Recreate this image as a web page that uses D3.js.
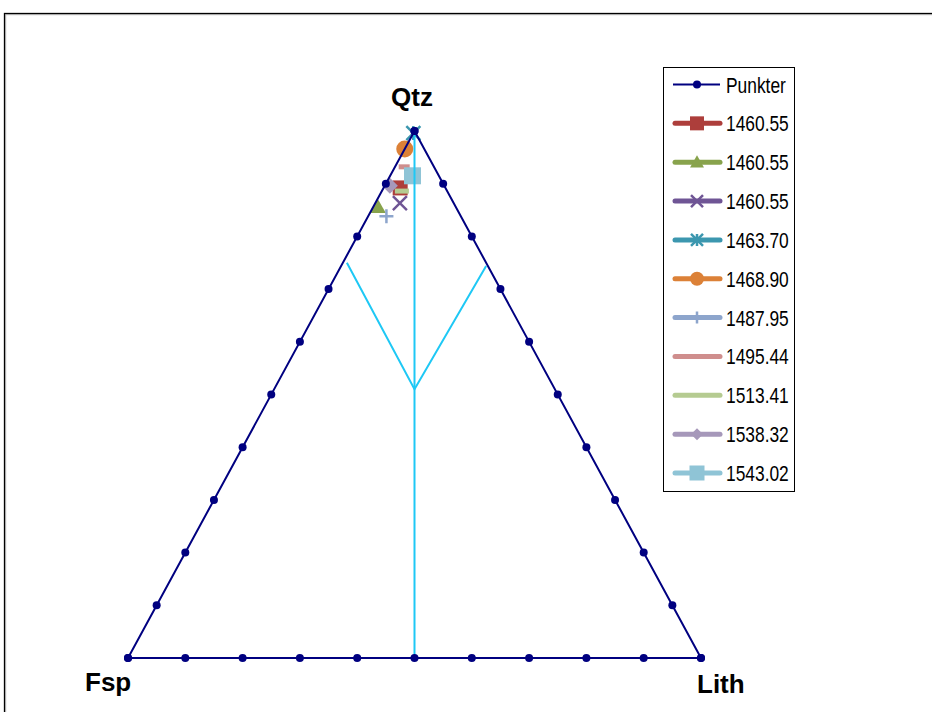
<!DOCTYPE html>
<html>
<head>
<meta charset="utf-8">
<script src="https://cdn.jsdelivr.net/npm/d3@7"></script>
<style>
  body { margin: 0; background: #fff; }
  svg { display: block; }
</style>
</head>
<body>
<div id="chart"></div>
<script>
// Ternary data: Q = quartz, F = feldspar, L = lithics (fractions)
const samples = ['1460.55', '1460.55', '1460.55', '1463.70', '1468.90', '1487.95', '1495.44', '1513.41', '1538.32', '1543.02'];
const qtz  = [0.892, 0.856, 0.863, 0.996, 0.966, 0.838, 0.932, 0.886, 0.896, 0.915];
const fsp  = [0.079, 0.136, 0.094, 0.004, 0.034, 0.130, 0.052, 0.079, 0.095, 0.046];
const lith = [0.029, 0.008, 0.043, 0.000, 0.000, 0.032, 0.016, 0.035, 0.009, 0.039];
const markers = ['square', 'triangle', 'x', 'star', 'circle', 'plus', 'dash', 'dash', 'diamond', 'square'];
const colors = ['#AD3E3B', '#88A34C', '#6F5595', '#3C97AF', '#DC8137', '#8DA5CC', '#CF8E8D', '#B5CB91', '#A698BA', '#8FC4D6'];

const ticks = d3.range(0, 11).map((d) => d / 10);
const cornerLabels = ['Qtz', 'Fsp', 'Lith'];

// classification lines (Q, F, L)
const fieldLines = [
  [[1, 0, 0], [0, 0.5, 0.5]],
  [[0.75, 0.243, 0.007], [0.51, 0.245, 0.245], [0.744, 0.003, 0.253]]
];

const width = 932;
const height = 712;

const svg = d3.select('#chart').append('svg')
  .attr('width', width)
  .attr('height', height);

// outer frame
svg.append('rect')
  .attr('x', 5.5).attr('y', 14.5)
  .attr('width', 1000).attr('height', 800)
  .attr('fill', 'none').attr('stroke', '#c8c8c8').attr('stroke-width', 1.5);
svg.append('rect')
  .attr('x', 4.5).attr('y', 13.5)
  .attr('width', 1000).attr('height', 800)
  .attr('fill', 'none').attr('stroke', '#000').attr('stroke-width', 1.3);

// ternary scales
const xScale = d3.scaleLinear().domain([0, 1]).range([128, 701]);
const yScale = d3.scaleLinear().domain([0, 1]).range([658, 131]);
const px = (q, f, l) => xScale(l + q / 2);
const py = (q) => yScale(q);

function markerPath(g, type, cx, cy, color, s) {
  const h = s / 2;
  if (type === 'square') {
    g.append('rect').attr('x', cx - h).attr('y', cy - h).attr('width', s).attr('height', s).attr('fill', color);
  } else if (type === 'circle') {
    g.append('circle').attr('cx', cx).attr('cy', cy).attr('r', h).attr('fill', color);
  } else if (type === 'triangle') {
    g.append('path').attr('d', `M${cx},${cy - h}L${cx + h},${cy + h * 0.75}L${cx - h},${cy + h * 0.75}Z`).attr('fill', color);
  } else if (type === 'diamond') {
    g.append('path').attr('d', `M${cx},${cy - h}L${cx + h},${cy}L${cx},${cy + h}L${cx - h},${cy}Z`).attr('fill', color);
  } else if (type === 'x') {
    g.append('path').attr('d', `M${cx - h},${cy - h}L${cx + h},${cy + h}M${cx + h},${cy - h}L${cx - h},${cy + h}`)
      .attr('stroke', color).attr('stroke-width', 2.5).attr('fill', 'none');
  } else if (type === 'star') {
    g.append('path').attr('d', `M${cx - h},${cy - h}L${cx + h},${cy + h}M${cx + h},${cy - h}L${cx - h},${cy + h}M${cx},${cy - h}L${cx},${cy + h}`)
      .attr('stroke', color).attr('stroke-width', 2.5).attr('fill', 'none');
  } else if (type === 'plus') {
    g.append('path').attr('d', `M${cx - h},${cy}L${cx + h},${cy}M${cx},${cy - h}L${cx},${cy + h}`)
      .attr('stroke', color).attr('stroke-width', 2.5).attr('fill', 'none');
  } else if (type === 'dash') {
    g.append('rect').attr('x', cx - h).attr('y', cy - 2.5).attr('width', s).attr('height', 5).attr('fill', color);
  }
}

// data points (drawn below the frame lines)
const pts = svg.append('g').attr('class', 'points');
const plotSizes = [15, 16, 14, 14, 17, 14, 11, 14, 16, 17];
samples.forEach((name, i) => {
  markerPath(pts, markers[i], px(qtz[i], fsp[i], lith[i]), py(qtz[i]), colors[i], plotSizes[i]);
});

// field lines
const line = d3.line().x((d) => px(d[0], d[1], d[2])).y((d) => py(d[0]));
svg.append('g').selectAll('path')
  .data(fieldLines)
  .join('path')
  .attr('d', line)
  .attr('fill', 'none')
  .attr('stroke', '#1EC8F5')
  .attr('stroke-width', 2);

// triangle outline
const corners = [[1, 0, 0], [0, 1, 0], [0, 0, 1], [1, 0, 0]];
svg.append('path')
  .attr('d', line(corners))
  .attr('fill', 'none')
  .attr('stroke', '#000080')
  .attr('stroke-width', 2);

// tick dots on each edge
const dots = [];
ticks.forEach((t) => {
  dots.push([t, 1 - t, 0]);   // Fsp - Qtz edge
  dots.push([t, 0, 1 - t]);   // Lith - Qtz edge
  dots.push([0, 1 - t, t]);   // Fsp - Lith edge
});
svg.append('g').selectAll('circle')
  .data(dots)
  .join('circle')
  .attr('cx', (d) => px(d[0], d[1], d[2]))
  .attr('cy', (d) => py(d[0]))
  .attr('r', 4)
  .attr('fill', '#000080');

// corner labels
const labelPos = [[412, 106, 'middle'], [85, 691, 'start'], [697, 693, 'start']];
cornerLabels.forEach((lab, i) => {
  svg.append('text')
    .attr('x', labelPos[i][0]).attr('y', labelPos[i][1])
    .attr('text-anchor', labelPos[i][2])
    .attr('font-family', 'Liberation Sans, Arial, sans-serif')
    .attr('font-weight', 'bold')
    .attr('font-size', 26)
    .attr('fill', '#000')
    .text(lab);
});

// legend
const legend = svg.append('g').attr('class', 'legend');
legend.append('rect')
  .attr('x', 663.5).attr('y', 67.5)
  .attr('width', 131).attr('height', 424)
  .attr('fill', '#fff').attr('stroke', '#000').attr('stroke-width', 1);

const legendNames = ['Punkter'].concat(samples);
const legendY = d3.scaleLinear().domain([0, 10]).range([84.5, 473]);
const legendSizes = [14, 14, 12, 12, 14, 12, 10, 10, 12, 15];

legendNames.forEach((name, i) => {
  const y = legendY(i);
  const g = legend.append('g');
  if (i === 0) {
    g.append('line').attr('x1', 673).attr('x2', 720).attr('y1', y).attr('y2', y)
      .attr('stroke', '#000080').attr('stroke-width', 2);
    g.append('circle').attr('cx', 697).attr('cy', y).attr('r', 4).attr('fill', '#000080');
  } else {
    const c = colors[i - 1];
    g.append('line').attr('x1', 675).attr('x2', 720).attr('y1', y).attr('y2', y)
      .attr('stroke', c).attr('stroke-width', 5).attr('stroke-linecap', 'round');
    if (markers[i - 1] !== 'dash') markerPath(g, markers[i - 1], 697, y, c, legendSizes[i - 1]);
  }
  g.append('text')
    .attr('transform', `translate(726,${y + 8}) scale(0.79,1)`)
    .attr('font-family', 'Liberation Sans, Arial, sans-serif')
    .attr('font-size', 22)
    .attr('fill', '#000')
    .text(name);
});
</script>
</body>
</html>
